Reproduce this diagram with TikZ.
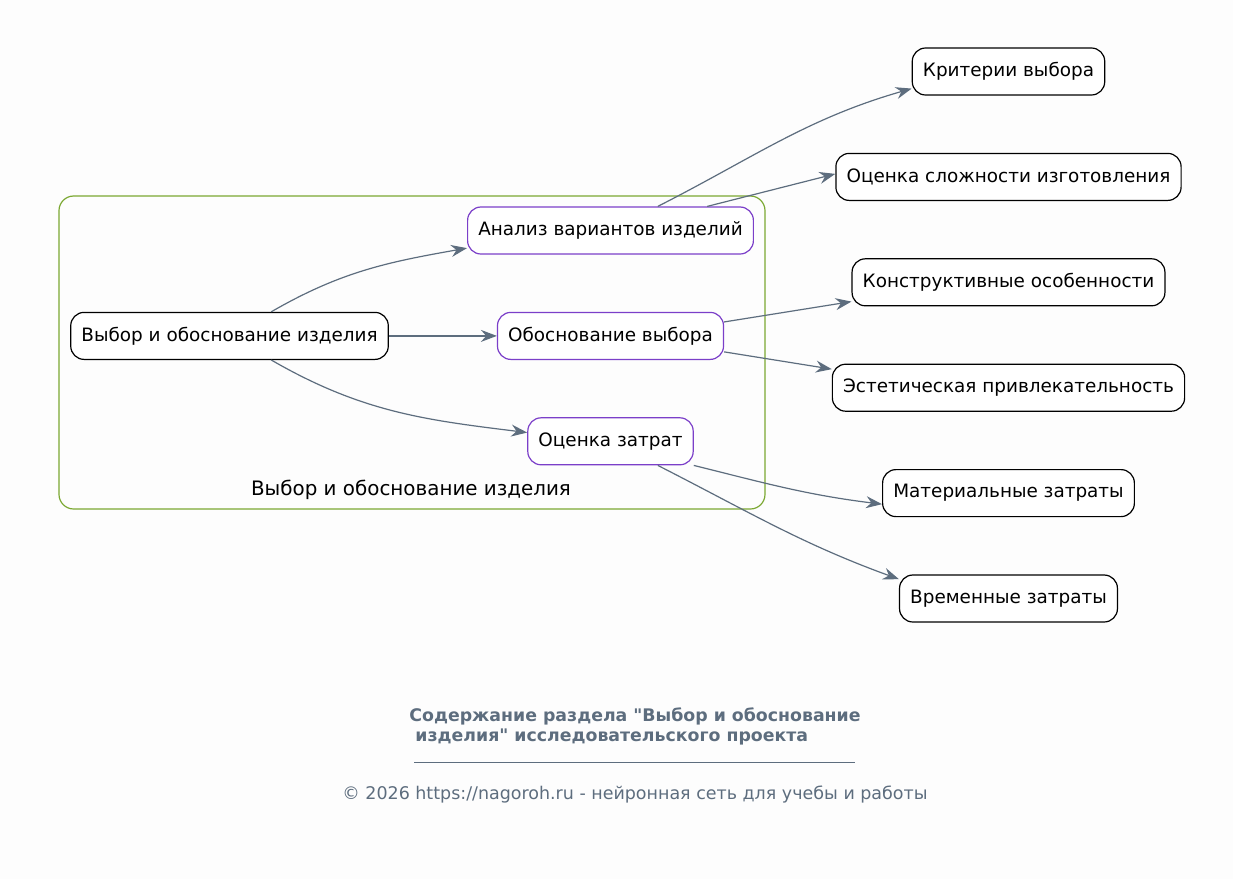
\documentclass[tikz,border=0pt]{standalone}
\usepackage{fontspec}
\setmainfont{DejaVu Sans}
\newfontfamily\titlefont{DejaVu Sans}
\usepackage{tikz}
\usetikzlibrary{arrows.meta, positioning}
\definecolor{grisFlecha}{HTML}{5D6D7E}
\definecolor{moradoNodo}{HTML}{7B3FC9}
\definecolor{verdeGrupo}{HTML}{7BA832}
\definecolor{fondo}{HTML}{FDFDFD}

\begin{document}
\begin{tikzpicture}[
  x=0.75pt, y=-0.75pt,
  node distance=42.9pt and 81pt,
  base/.style={rectangle, rounded corners=10pt, fill=white, line width=0.9pt,
               minimum height=35.25pt, inner xsep=8pt, font=\fontsize{13.8}{16}\selectfont},
  root/.style={base, draw=black},
  sub/.style={base, draw=moradoNodo},
  leaf/.style={base, draw=black},
  clus/.style={draw=verdeGrupo, line width=0.9pt, rounded corners=11pt},
  arr/.style={-{Stealth[length=12pt, width=9pt, inset=4pt]}, line width=0.9pt, color=grisFlecha}
]
  \useasboundingbox[fill=fondo] (0,0) rectangle (1233,879);

  % grupo
  \draw[clus] (59,196) rectangle (765,509);
  \node[font=\fontsize{14.9}{17}\selectfont] (clusLbl) at (411,490) {Выбор и обоснование изделия};

  % nodos centrales
  \node[sub] (anal) at (610.5,230.5) {Анализ вариантов изделий};
  \node[sub, below=of anal] (obosn) {Обоснование выбора};
  \node[sub, below=of obosn] (ocen) {Оценка затрат};
  \node[root, left=of obosn] (main) {Выбор и обоснование изделия};

  % hojas
  \node[leaf] (crit) at (1008.5,71.5) {Критерии выбора};
  \node[leaf, below=of crit] (slozh) {Оценка сложности изготовления};
  \node[leaf, below=of slozh] (konstr) {Конструктивные особенности};
  \node[leaf, below=of konstr] (estet) {Эстетическая привлекательность};
  \node[leaf, below=of estet] (mater) {Материальные затраты};
  \node[leaf, below=of mater] (vrem) {Временные затраты};

  \draw[arr] (main.30) to[out=30, in=190] (anal.187);
  \draw[arr] (main) -- (obosn);
  \draw[arr] (main.-30) to[out=-30, in=173] (ocen.174);

  \draw[arr] (anal.27) to[out=27, in=196] (crit.190);
  \draw[arr] (anal.14) -- (slozh.179);
  \draw[arr] (obosn.7) -- (konstr.187);
  \draw[arr] (obosn.-8) -- (estet.174);
  \draw[arr] (ocen.south east) to[out=-14, in=173] (mater.185);
  \draw[arr] (ocen.-27) to[out=-27, in=160] (vrem.170);

  % pie
  \node[font=\titlefont\bfseries\fontsize{13}{15}\selectfont, color=grisFlecha, align=left] (title) at (635,726)
    {Содержание раздела "Выбор и обоснование\\\ изделия" исследовательского проекта};
  \draw[grisFlecha, line width=0.5pt] (414,762) -- (855,762);
  \node[font=\fontsize{13.1}{15}\selectfont, color=grisFlecha] (footer) at (635,795)
    {© 2026 https://nagoroh.ru - нейронная сеть для учебы и работы};
\end{tikzpicture}
\end{document}
